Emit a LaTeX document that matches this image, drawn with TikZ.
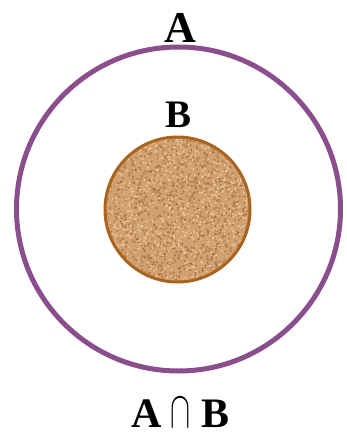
\documentclass[tikz,border=0pt]{standalone}
\usepackage{fontspec}
\setmainfont{Liberation Serif}
\usepackage{graphicx}
\definecolor{outerc}{HTML}{8A4E8C}
\definecolor{innerc}{HTML}{A8641E}
\definecolor{basec}{HTML}{D1A171}
\definecolor{darkc}{HTML}{A8713C}
\definecolor{darkerc}{HTML}{7A4722}
\definecolor{lightc}{HTML}{EDCFA4}
\tikzset{
  setcircle/.style={circle, inner sep=0pt, outer sep=0pt},
  lab/.style={font=\bfseries, inner sep=0pt, text=black, anchor=base}
}
\begin{document}
\begin{tikzpicture}[x=1pt,y=-1pt]
\useasboundingbox (0,0) rectangle (346,436);
\node[setcircle, draw=outerc, line width=5pt, minimum size=324pt] (outer) at (178.5,209) {};
\node[setcircle, fill=basec, minimum size=145pt] (inner) at (177.5,209.5) {};
\pgfmathsetseed{7}
\begin{scope}
\clip (inner.center) circle (72.5);
\foreach \i in {1,...,900} {
  \pgfmathsetmacro\rr{74*sqrt(rnd)}
  \pgfmathsetmacro\aa{360*rnd}
  \fill[darkc, opacity=0.7] ([shift={(\aa:\rr)}]inner.center) circle (1.2);
}
\foreach \i in {1,...,700} {
  \pgfmathsetmacro\rr{74*sqrt(rnd)}
  \pgfmathsetmacro\aa{360*rnd}
  \fill[lightc, opacity=0.8] ([shift={(\aa:\rr)}]inner.center) circle (1.1);
}
\foreach \i in {1,...,140} {
  \pgfmathsetmacro\rr{74*sqrt(rnd)}
  \pgfmathsetmacro\aa{360*rnd}
  \fill[darkerc, opacity=0.8] ([shift={(\aa:\rr)}]inner.center) circle (0.8);
}
\end{scope}
\draw[innerc, line width=3pt] (inner.center) circle (72.5);
\node[lab, font=\bfseries\fontsize{44}{48}\selectfont] (labA) at (180,42) {A};
\node[lab, font=\bfseries\fontsize{39}{44}\selectfont] (labB) at (179,127) {B};
\node[lab, font=\bfseries\fontsize{42}{46}\selectfont] (labAB) at (180.5,427)
  {A\hspace{9pt}\resizebox{20pt}{29pt}{$\cap$}\hspace{11pt}B};
\end{tikzpicture}
\end{document}
